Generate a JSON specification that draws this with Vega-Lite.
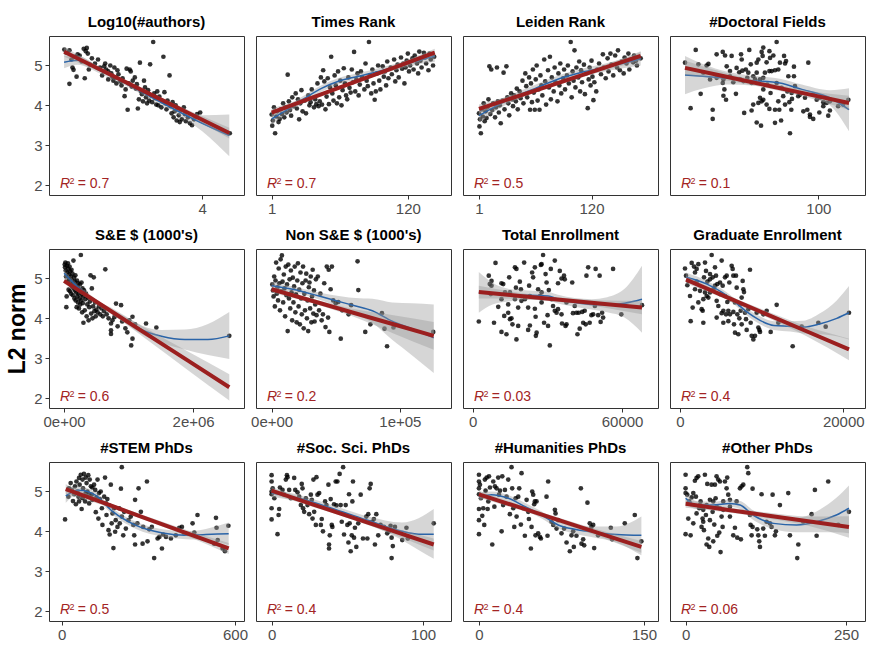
{
  "$schema": "https://vega.github.io/schema/vega-lite/v6.json",
  "padding": {"left": 6, "top": 14, "right": 0, "bottom": 0},
  "columns": 4,
  "spacing": {"row": 54, "column": 12},
  "bounds": "flush",
  "config": {
    "view": {"stroke": "#333333", "strokeWidth": 1},
    "axis": {"domain": false, "grid": false, "tickColor": "#333333", "tickSize": 4, "labelColor": "#4d4d4d", "labelFont": "Liberation Sans", "labelFontSize": 15, "labelPadding": 2, "titleFont": "Liberation Sans", "titleFontSize": 23, "titleFontWeight": "bold", "titleColor": "#000000", "titlePadding": 4},
    "axisX": {"labelFlush": false},
    "axisY": {"labelPadding": 3},
    "title": {"font": "Liberation Sans", "fontSize": 15, "fontWeight": "bold", "color": "#000000", "offset": 6, "anchor": "middle", "frame": "group"},
    "text": {"font": "Liberation Sans", "fontSize": 14, "color": "#a32424", "align": "left", "baseline": "alphabetic"},
    "circle": {"size": 22, "color": "#000000", "opacity": 0.8},
    "area": {"color": "#999999", "opacity": 0.4, "interpolate": "monotone"}
  },
  "datasets": {
    "p1": [{"x":2.65,"y":5.4},{"x":2.67,"y":5.32},{"x":2.7,"y":5.38},{"x":2.72,"y":5.15},{"x":2.73,"y":4.95},{"x":2.74,"y":4.89},{"x":2.75,"y":5.22},{"x":2.78,"y":5.28},{"x":2.8,"y":5.25},{"x":2.82,"y":5.1},{"x":2.84,"y":5.42},{"x":2.86,"y":5.36},{"x":2.87,"y":5.44},{"x":2.88,"y":5.3},{"x":2.9,"y":5.02},{"x":2.92,"y":5.18},{"x":2.7,"y":4.54},{"x":2.77,"y":4.72},{"x":2.85,"y":4.68},{"x":2.89,"y":4.9},{"x":2.95,"y":5.05},{"x":2.98,"y":5.15},{"x":3.0,"y":4.95},{"x":3.02,"y":4.75},{"x":3.04,"y":4.98},{"x":3.05,"y":5.05},{"x":3.06,"y":4.9},{"x":3.08,"y":4.85},{"x":3.08,"y":4.65},{"x":3.1,"y":5.0},{"x":3.11,"y":4.8},{"x":3.12,"y":4.72},{"x":3.13,"y":4.62},{"x":3.14,"y":4.95},{"x":3.15,"y":4.7},{"x":3.16,"y":4.55},{"x":3.17,"y":4.88},{"x":3.18,"y":4.78},{"x":3.2,"y":4.6},{"x":3.21,"y":4.5},{"x":3.22,"y":4.68},{"x":3.24,"y":4.23},{"x":3.25,"y":4.4},{"x":3.26,"y":4.92},{"x":3.27,"y":3.89},{"x":3.28,"y":4.55},{"x":3.29,"y":4.9},{"x":3.3,"y":4.85},{"x":3.31,"y":4.47},{"x":3.32,"y":4.62},{"x":3.34,"y":4.7},{"x":3.35,"y":4.42},{"x":3.36,"y":4.53},{"x":3.37,"y":3.92},{"x":3.38,"y":4.15},{"x":3.39,"y":5.07},{"x":3.4,"y":4.35},{"x":3.41,"y":4.28},{"x":3.42,"y":4.1},{"x":3.43,"y":4.62},{"x":3.44,"y":4.45},{"x":3.45,"y":4.2},{"x":3.46,"y":4.05},{"x":3.47,"y":4.38},{"x":3.48,"y":4.12},{"x":3.49,"y":5.03},{"x":3.5,"y":4.25},{"x":3.51,"y":4.08},{"x":3.52,"y":5.59},{"x":3.53,"y":4.3},{"x":3.54,"y":4.18},{"x":3.55,"y":4.02},{"x":3.56,"y":4.35},{"x":3.57,"y":4.0},{"x":3.58,"y":4.22},{"x":3.6,"y":3.95},{"x":3.61,"y":4.1},{"x":3.62,"y":5.22},{"x":3.63,"y":4.33},{"x":3.64,"y":4.05},{"x":3.65,"y":3.9},{"x":3.66,"y":4.12},{"x":3.68,"y":4.75},{"x":3.69,"y":3.98},{"x":3.7,"y":3.8},{"x":3.71,"y":4.08},{"x":3.72,"y":3.7},{"x":3.73,"y":3.85},{"x":3.74,"y":4.0},{"x":3.75,"y":3.62},{"x":3.76,"y":3.92},{"x":3.77,"y":3.75},{"x":3.78,"y":3.58},{"x":3.79,"y":3.88},{"x":3.8,"y":3.65},{"x":3.82,"y":3.95},{"x":3.83,"y":3.78},{"x":3.84,"y":3.6},{"x":3.86,"y":3.7},{"x":3.88,"y":3.55},{"x":3.9,"y":3.5},{"x":3.92,"y":3.65},{"x":3.95,"y":3.78},{"x":3.98,"y":3.82},{"x":4.27,"y":3.3}],
    "s1": [{"x":2.648,"y":5.08,"lo":4.93,"hi":5.23},{"x":2.78,"y":5.13,"lo":5.02,"hi":5.24},{"x":3.0,"y":4.87,"lo":4.8,"hi":4.94},{"x":3.25,"y":4.55,"lo":4.49,"hi":4.61},{"x":3.5,"y":4.21,"lo":4.15,"hi":4.27},{"x":3.75,"y":3.87,"lo":3.79,"hi":3.95},{"x":4.0,"y":3.55,"lo":3.35,"hi":3.75},{"x":4.265,"y":3.24,"lo":2.72,"hi":3.77}],
    "l1": [{"x":2.648,"y":5.344,"lo":5.22,"hi":5.47},{"x":3.0,"y":4.9,"lo":4.84,"hi":4.96},{"x":3.45,"y":4.332,"lo":4.29,"hi":4.37},{"x":3.9,"y":3.764,"lo":3.69,"hi":3.84},{"x":4.265,"y":3.304,"lo":3.17,"hi":3.44}],
    "p2": [{"x":1,"y":3.77},{"x":1.5,"y":3.49},{"x":2,"y":3.62},{"x":3,"y":3.95},{"x":4,"y":3.3},{"x":5,"y":3.72},{"x":6,"y":3.85},{"x":7,"y":3.58},{"x":8,"y":3.66},{"x":9,"y":3.9},{"x":10,"y":3.78},{"x":11,"y":4.05},{"x":12,"y":3.7},{"x":13,"y":3.95},{"x":14,"y":3.82},{"x":15,"y":4.77},{"x":16,"y":4.1},{"x":17,"y":3.88},{"x":18,"y":3.74},{"x":19,"y":4.2},{"x":20,"y":3.98},{"x":22,"y":4.3},{"x":23,"y":3.92},{"x":24,"y":4.15},{"x":25,"y":3.65},{"x":26,"y":4.05},{"x":27,"y":4.38},{"x":28,"y":3.85},{"x":30,"y":4.12},{"x":31,"y":3.8},{"x":33,"y":4.25},{"x":34,"y":4.0},{"x":35,"y":4.08},{"x":36,"y":4.4},{"x":38,"y":3.95},{"x":39,"y":4.15},{"x":40,"y":4.03},{"x":41,"y":4.55},{"x":42,"y":3.98},{"x":43,"y":4.1},{"x":44,"y":4.7},{"x":45,"y":4.02},{"x":46,"y":4.88},{"x":47,"y":4.6},{"x":48,"y":3.9},{"x":49,"y":4.22},{"x":50,"y":4.68},{"x":51,"y":4.03},{"x":52,"y":4.45},{"x":53,"y":5.22},{"x":54,"y":4.3},{"x":55,"y":4.12},{"x":56,"y":4.75},{"x":57,"y":4.5},{"x":58,"y":4.05},{"x":59,"y":4.85},{"x":60,"y":4.2},{"x":61,"y":4.62},{"x":62,"y":4.0},{"x":63,"y":4.38},{"x":64,"y":4.93},{"x":65,"y":4.55},{"x":66,"y":4.25},{"x":67,"y":4.15},{"x":68,"y":4.7},{"x":69,"y":4.44},{"x":70,"y":4.32},{"x":71,"y":4.9},{"x":72,"y":4.58},{"x":73,"y":5.34},{"x":74,"y":4.35},{"x":75,"y":4.65},{"x":76,"y":4.8},{"x":77,"y":4.25},{"x":78,"y":4.52},{"x":79,"y":4.85},{"x":80,"y":4.7},{"x":82,"y":4.4},{"x":83,"y":5.05},{"x":84,"y":4.62},{"x":85,"y":4.48},{"x":86,"y":5.59},{"x":87,"y":4.75},{"x":88,"y":4.3},{"x":89,"y":4.9},{"x":90,"y":4.55},{"x":91,"y":4.14},{"x":92,"y":4.35},{"x":93,"y":4.8},{"x":94,"y":5.0},{"x":95,"y":4.62},{"x":96,"y":4.4},{"x":98,"y":4.98},{"x":99,"y":4.72},{"x":100,"y":4.85},{"x":101,"y":4.5},{"x":102,"y":5.1},{"x":103,"y":4.68},{"x":105,"y":4.95},{"x":106,"y":4.78},{"x":108,"y":5.15},{"x":109,"y":4.6},{"x":110,"y":4.88},{"x":111,"y":5.02},{"x":112,"y":4.7},{"x":114,"y":5.2},{"x":115,"y":4.92},{"x":116,"y":5.05},{"x":117,"y":4.55},{"x":118,"y":4.95},{"x":119,"y":5.12},{"x":120,"y":5.3},{"x":121,"y":4.85},{"x":122,"y":5.0},{"x":124,"y":5.18},{"x":125,"y":4.9},{"x":126,"y":5.25},{"x":128,"y":5.05},{"x":129,"y":4.8},{"x":130,"y":5.35},{"x":131,"y":5.12},{"x":132,"y":4.95},{"x":134,"y":5.32},{"x":135,"y":5.2},{"x":136,"y":5.05},{"x":138,"y":4.88},{"x":139,"y":5.3},{"x":140,"y":5.15},{"x":142,"y":5.0},{"x":143,"y":5.22}],
    "s2": [{"x":1,"y":3.66,"lo":3.52,"hi":3.8},{"x":15,"y":3.9,"lo":3.8,"hi":4.0},{"x":30,"y":4.18,"lo":4.1,"hi":4.26},{"x":45,"y":4.43,"lo":4.35,"hi":4.51},{"x":60,"y":4.61,"lo":4.53,"hi":4.69},{"x":75,"y":4.72,"lo":4.64,"hi":4.8},{"x":90,"y":4.82,"lo":4.74,"hi":4.9},{"x":105,"y":4.93,"lo":4.85,"hi":5.01},{"x":120,"y":5.05,"lo":4.96,"hi":5.14},{"x":135,"y":5.17,"lo":5.06,"hi":5.28},{"x":143.5,"y":5.23,"lo":5.09,"hi":5.37}],
    "l2": [{"x":1,"y":3.82,"lo":3.72,"hi":3.92},{"x":40,"y":4.231,"lo":4.18,"hi":4.28},{"x":72,"y":4.567,"lo":4.53,"hi":4.61},{"x":105,"y":4.915,"lo":4.86,"hi":4.97},{"x":143.5,"y":5.32,"lo":5.22,"hi":5.42}],
    "p3": [{"x":1,"y":3.8},{"x":1.5,"y":3.47},{"x":2,"y":3.65},{"x":3,"y":3.3},{"x":4,"y":3.9},{"x":5,"y":3.72},{"x":6,"y":4.05},{"x":7,"y":3.6},{"x":8,"y":3.85},{"x":9,"y":3.68},{"x":10,"y":3.95},{"x":11,"y":4.15},{"x":12,"y":4.98},{"x":13,"y":3.78},{"x":14,"y":4.9},{"x":15,"y":3.88},{"x":16,"y":4.05},{"x":18,"y":3.7},{"x":19,"y":3.95},{"x":20,"y":4.95},{"x":21,"y":4.1},{"x":22,"y":3.82},{"x":23,"y":4.0},{"x":24,"y":3.55},{"x":26,"y":4.12},{"x":27,"y":4.82},{"x":28,"y":3.9},{"x":30,"y":4.98},{"x":31,"y":4.2},{"x":32,"y":4.05},{"x":33,"y":3.75},{"x":35,"y":4.3},{"x":36,"y":4.15},{"x":37,"y":3.98},{"x":38,"y":4.25},{"x":40,"y":4.1},{"x":41,"y":4.42},{"x":42,"y":3.9},{"x":44,"y":4.35},{"x":45,"y":4.18},{"x":47,"y":4.62},{"x":48,"y":4.05},{"x":50,"y":4.8},{"x":51,"y":4.48},{"x":52,"y":4.2},{"x":54,"y":4.7},{"x":55,"y":3.89},{"x":56,"y":4.55},{"x":57,"y":4.08},{"x":58,"y":4.9},{"x":59,"y":4.32},{"x":60,"y":3.89},{"x":61,"y":4.65},{"x":62,"y":5.0},{"x":63,"y":4.12},{"x":64,"y":4.4},{"x":65,"y":3.89},{"x":66,"y":4.75},{"x":67,"y":4.5},{"x":68,"y":4.25},{"x":70,"y":5.15},{"x":71,"y":4.6},{"x":72,"y":4.02},{"x":74,"y":4.88},{"x":75,"y":4.45},{"x":76,"y":5.22},{"x":77,"y":4.15},{"x":78,"y":4.7},{"x":80,"y":4.35},{"x":81,"y":4.95},{"x":82,"y":4.58},{"x":84,"y":4.1},{"x":85,"y":4.8},{"x":86,"y":4.5},{"x":87,"y":5.05},{"x":88,"y":4.3},{"x":90,"y":4.68},{"x":91,"y":4.9},{"x":92,"y":4.4},{"x":94,"y":4.75},{"x":95,"y":5.0},{"x":96,"y":4.55},{"x":98,"y":5.59},{"x":99,"y":4.2},{"x":100,"y":4.85},{"x":101,"y":4.62},{"x":102,"y":5.38},{"x":103,"y":4.45},{"x":104,"y":4.95},{"x":106,"y":4.7},{"x":107,"y":5.1},{"x":108,"y":4.35},{"x":109,"y":4.88},{"x":110,"y":4.58},{"x":112,"y":5.02},{"x":113,"y":4.28},{"x":114,"y":4.8},{"x":116,"y":3.93},{"x":117,"y":4.65},{"x":118,"y":4.95},{"x":119,"y":4.5},{"x":120,"y":5.12},{"x":121,"y":4.72},{"x":122,"y":4.13},{"x":123,"y":4.58},{"x":125,"y":4.35},{"x":126,"y":4.9},{"x":128,"y":5.05},{"x":130,"y":4.78},{"x":132,"y":5.28},{"x":133,"y":4.95},{"x":135,"y":4.68},{"x":137,"y":5.18},{"x":138,"y":4.85},{"x":140,"y":5.3},{"x":141,"y":5.02},{"x":143,"y":4.75},{"x":145,"y":5.25},{"x":147,"y":4.95},{"x":148,"y":5.38},{"x":150,"y":4.88},{"x":152,"y":5.1},{"x":154,"y":4.8},{"x":155,"y":5.2},{"x":157,"y":5.05},{"x":159,"y":5.3},{"x":160,"y":4.9},{"x":162,"y":5.15},{"x":164,"y":5.08},{"x":165,"y":5.25},{"x":167,"y":5.12},{"x":168,"y":5.0},{"x":170,"y":5.2},{"x":172,"y":5.18}],
    "s3": [{"x":1,"y":3.74,"lo":3.58,"hi":3.9},{"x":30,"y":4.12,"lo":4.02,"hi":4.22},{"x":60,"y":4.42,"lo":4.33,"hi":4.51},{"x":85,"y":4.66,"lo":4.57,"hi":4.75},{"x":110,"y":4.83,"lo":4.74,"hi":4.92},{"x":137,"y":4.96,"lo":4.86,"hi":5.06},{"x":155,"y":5.06,"lo":4.94,"hi":5.18},{"x":172,"y":5.17,"lo":5.0,"hi":5.34}],
    "l3": [{"x":1,"y":3.91,"lo":3.8,"hi":4.02},{"x":45,"y":4.252,"lo":4.19,"hi":4.31},{"x":86,"y":4.571,"lo":4.52,"hi":4.62},{"x":130,"y":4.913,"lo":4.85,"hi":4.98},{"x":172,"y":5.24,"lo":5.12,"hi":5.36}],
    "p4": [{"x":19.1,"y":5.07},{"x":25.6,"y":5.39},{"x":22.5,"y":3.93},{"x":28.6,"y":4.29},{"x":32.2,"y":5.0},{"x":35.9,"y":3.89},{"x":35.9,"y":3.66},{"x":38.3,"y":5.28},{"x":42,"y":5.34},{"x":43.4,"y":5.25},{"x":47.4,"y":5.24},{"x":43,"y":4.4},{"x":42.4,"y":4.24},{"x":44,"y":4.14},{"x":50,"y":4.29},{"x":53.1,"y":5.28},{"x":53.5,"y":5.15},{"x":58.1,"y":5.39},{"x":59,"y":5.03},{"x":52,"y":4.83},{"x":56,"y":4.9},{"x":55,"y":3.81},{"x":59.5,"y":3.87},{"x":60.5,"y":4.02},{"x":62.6,"y":3.57},{"x":65.2,"y":3.49},{"x":63.6,"y":5.15},{"x":65.6,"y":5.34},{"x":66.6,"y":5.45},{"x":66.2,"y":5.24},{"x":68.6,"y":5.08},{"x":70.3,"y":5.36},{"x":74.7,"y":5.59},{"x":72.7,"y":5.25},{"x":70.3,"y":4.86},{"x":71.7,"y":4.86},{"x":73.7,"y":4.88},{"x":75.7,"y":4.9},{"x":64.6,"y":4.19},{"x":65.6,"y":4.1},{"x":66.6,"y":4.14},{"x":63.6,"y":4.06},{"x":68.6,"y":4.02},{"x":70.3,"y":3.91},{"x":73.7,"y":3.89},{"x":76.3,"y":3.89},{"x":73.7,"y":3.56},{"x":77.4,"y":3.62},{"x":79.2,"y":5.24},{"x":79.8,"y":5.05},{"x":80.4,"y":5.11},{"x":82.8,"y":3.3},{"x":84,"y":4.16},{"x":83.6,"y":3.89},{"x":85.2,"y":4.97},{"x":85.2,"y":4.73},{"x":81.8,"y":4.73},{"x":82.4,"y":4.08},{"x":87.8,"y":4.23},{"x":93.9,"y":5.07},{"x":93.3,"y":3.89},{"x":94.9,"y":3.77},{"x":94.9,"y":3.71},{"x":96.9,"y":3.66},{"x":100.6,"y":3.82},{"x":106,"y":3.74},{"x":107,"y":3.87},{"x":103,"y":4.08},{"x":118.2,"y":4.14},{"x":53.9,"y":4.87},{"x":42.4,"y":4.65},{"x":46.4,"y":4.73},{"x":48.4,"y":4.58},{"x":52.5,"y":4.65},{"x":54.5,"y":4.61},{"x":56.9,"y":4.69},{"x":59.5,"y":4.56},{"x":62.6,"y":4.82},{"x":64.6,"y":4.65},{"x":67.6,"y":4.82},{"x":69,"y":4.52},{"x":74.7,"y":4.56},{"x":77.7,"y":4.44},{"x":81.2,"y":4.35},{"x":83.8,"y":4.31},{"x":85.8,"y":4.48},{"x":88.9,"y":4.27},{"x":91.9,"y":4.19},{"x":97,"y":4.27},{"x":101,"y":4.19},{"x":105,"y":4.06},{"x":107,"y":4.1},{"x":112,"y":3.98},{"x":115,"y":4.02},{"x":30.2,"y":4.82},{"x":34.3,"y":4.65},{"x":38.3,"y":4.69},{"x":27.2,"y":5.03},{"x":33.3,"y":5.04},{"x":42,"y":4.56},{"x":46.4,"y":4.86},{"x":57.5,"y":4.82},{"x":60.5,"y":4.73},{"x":61.6,"y":4.65},{"x":66.6,"y":4.4},{"x":71,"y":4.31},{"x":75.7,"y":4.1},{"x":79.8,"y":4.02},{"x":78.7,"y":4.23},{"x":90.9,"y":3.85},{"x":99,"y":4.14},{"x":103,"y":3.98},{"x":66.6,"y":4.69},{"x":62.6,"y":5.07},{"x":76.7,"y":5.07},{"x":50.4,"y":4.94},{"x":44.4,"y":4.98},{"x":70.7,"y":5.19}],
    "s4": [{"x":19.1,"y":4.76,"lo":4.28,"hi":5.24},{"x":30,"y":4.73,"lo":4.42,"hi":5.04},{"x":45,"y":4.68,"lo":4.52,"hi":4.84},{"x":60,"y":4.62,"lo":4.5,"hi":4.74},{"x":76.6,"y":4.56,"lo":4.45,"hi":4.67},{"x":90,"y":4.4,"lo":4.28,"hi":4.52},{"x":107,"y":4.19,"lo":4.0,"hi":4.38},{"x":118.6,"y":3.89,"lo":3.35,"hi":4.43}],
    "l4": [{"x":19.1,"y":4.94,"lo":4.76,"hi":5.12},{"x":45,"y":4.711,"lo":4.62,"hi":4.8},{"x":69,"y":4.499,"lo":4.43,"hi":4.57},{"x":95,"y":4.269,"lo":4.18,"hi":4.36},{"x":118.6,"y":4.06,"lo":3.88,"hi":4.24}],
    "p5": [{"x":10000,"y":5.35},{"x":15000,"y":5.28},{"x":20000,"y":5.4},{"x":25000,"y":5.2},{"x":30000,"y":5.05},{"x":35000,"y":4.28},{"x":40000,"y":4.55},{"x":45000,"y":5.32},{"x":50000,"y":5.15},{"x":55000,"y":4.92},{"x":60000,"y":5.38},{"x":65000,"y":5.25},{"x":70000,"y":4.72},{"x":75000,"y":5.1},{"x":80000,"y":4.98},{"x":85000,"y":5.3},{"x":90000,"y":4.68},{"x":95000,"y":5.18},{"x":100000,"y":4.85},{"x":105000,"y":5.05},{"x":110000,"y":4.62},{"x":115000,"y":5.22},{"x":120000,"y":4.95},{"x":125000,"y":4.8},{"x":130000,"y":5.12},{"x":135000,"y":4.58},{"x":140000,"y":4.88},{"x":145000,"y":5.45},{"x":150000,"y":4.75},{"x":155000,"y":5.02},{"x":160000,"y":4.5},{"x":165000,"y":4.92},{"x":170000,"y":4.7},{"x":175000,"y":5.08},{"x":180000,"y":4.45},{"x":185000,"y":4.82},{"x":190000,"y":4.65},{"x":195000,"y":4.28},{"x":200000,"y":4.95},{"x":205000,"y":4.55},{"x":210000,"y":4.78},{"x":215000,"y":4.4},{"x":220000,"y":4.88},{"x":225000,"y":4.62},{"x":230000,"y":4.25},{"x":235000,"y":4.72},{"x":240000,"y":4.5},{"x":245000,"y":4.85},{"x":250000,"y":4.35},{"x":255000,"y":4.68},{"x":260000,"y":5.59},{"x":265000,"y":4.45},{"x":270000,"y":4.9},{"x":275000,"y":4.6},{"x":280000,"y":4.15},{"x":285000,"y":4.75},{"x":290000,"y":4.38},{"x":295000,"y":4.55},{"x":300000,"y":3.89},{"x":310000,"y":4.7},{"x":320000,"y":4.2},{"x":330000,"y":4.48},{"x":340000,"y":4.62},{"x":350000,"y":4.05},{"x":360000,"y":4.35},{"x":370000,"y":4.52},{"x":380000,"y":3.95},{"x":390000,"y":4.28},{"x":400000,"y":4.42},{"x":410000,"y":5.08},{"x":420000,"y":4.12},{"x":430000,"y":4.75},{"x":440000,"y":4.0},{"x":450000,"y":4.3},{"x":460000,"y":5.03},{"x":470000,"y":4.18},{"x":480000,"y":4.4},{"x":490000,"y":4.05},{"x":500000,"y":4.22},{"x":520000,"y":4.15},{"x":540000,"y":4.3},{"x":560000,"y":4.1},{"x":580000,"y":4.25},{"x":600000,"y":4.05},{"x":620000,"y":4.18},{"x":639000,"y":5.23},{"x":660000,"y":4.1},{"x":690000,"y":4.0},{"x":727000,"y":3.87},{"x":727000,"y":3.7},{"x":727000,"y":3.61},{"x":750000,"y":3.95},{"x":779000,"y":4.03},{"x":805000,"y":4.37},{"x":830000,"y":3.8},{"x":883000,"y":4.33},{"x":900000,"y":3.92},{"x":950000,"y":3.75},{"x":980000,"y":3.65},{"x":1010000,"y":3.95},{"x":1040000,"y":3.32},{"x":1060000,"y":3.49},{"x":1060000,"y":4.04},{"x":1100000,"y":3.85},{"x":1270000,"y":3.87},{"x":1430000,"y":3.77},{"x":2560000,"y":3.56}],
    "s5": [{"x":0,"y":5.13,"lo":5.05,"hi":5.21},{"x":208000,"y":4.79,"lo":4.73,"hi":4.85},{"x":363000,"y":4.58,"lo":4.52,"hi":4.64},{"x":571000,"y":4.33,"lo":4.26,"hi":4.4},{"x":727000,"y":4.19,"lo":4.11,"hi":4.27},{"x":986000,"y":3.93,"lo":3.84,"hi":4.02},{"x":1220000,"y":3.7,"lo":3.59,"hi":3.81},{"x":1510000,"y":3.55,"lo":3.39,"hi":3.71},{"x":1870000,"y":3.47,"lo":3.22,"hi":3.72},{"x":2230000,"y":3.47,"lo":3.08,"hi":3.86},{"x":2560000,"y":3.56,"lo":2.98,"hi":4.16}],
    "l5": [{"x":0,"y":4.94,"lo":4.87,"hi":5.01},{"x":640000,"y":4.272,"lo":4.22,"hi":4.32},{"x":1280000,"y":3.605,"lo":3.47,"hi":3.74},{"x":1920000,"y":2.938,"lo":2.7,"hi":3.17},{"x":2560000,"y":2.27,"lo":1.94,"hi":2.6}],
    "p6": [{"x":500,"y":4.85},{"x":1000,"y":4.7},{"x":1500,"y":4.55},{"x":2000,"y":5.05},{"x":2500,"y":4.3},{"x":3000,"y":4.95},{"x":3500,"y":5.4},{"x":4000,"y":4.62},{"x":4500,"y":4.78},{"x":5000,"y":4.45},{"x":5500,"y":5.25},{"x":6000,"y":4.88},{"x":6500,"y":4.2},{"x":7000,"y":5.48},{"x":7500,"y":4.68},{"x":8000,"y":5.58},{"x":8500,"y":4.92},{"x":9000,"y":4.4},{"x":9500,"y":5.1},{"x":10000,"y":4.75},{"x":10500,"y":4.05},{"x":11000,"y":5.3},{"x":11500,"y":4.58},{"x":12000,"y":4.85},{"x":12500,"y":3.68},{"x":13000,"y":5.35},{"x":13500,"y":4.5},{"x":14000,"y":4.98},{"x":14500,"y":4.25},{"x":15000,"y":5.2},{"x":15500,"y":4.65},{"x":16000,"y":3.95},{"x":16500,"y":5.02},{"x":17000,"y":4.4},{"x":17500,"y":4.8},{"x":18000,"y":5.3},{"x":18500,"y":4.15},{"x":19000,"y":4.6},{"x":19500,"y":3.9},{"x":20000,"y":4.95},{"x":20500,"y":5.38},{"x":21000,"y":4.3},{"x":21500,"y":4.72},{"x":22000,"y":3.85},{"x":22500,"y":5.15},{"x":23000,"y":4.5},{"x":23500,"y":4.1},{"x":24000,"y":4.88},{"x":24500,"y":5.3},{"x":25000,"y":3.75},{"x":25500,"y":4.62},{"x":26000,"y":4.2},{"x":26500,"y":4.95},{"x":27000,"y":5.12},{"x":27500,"y":4.0},{"x":28000,"y":4.45},{"x":28500,"y":3.68},{"x":29000,"y":4.78},{"x":29500,"y":4.9},{"x":30000,"y":4.25},{"x":30500,"y":5.05},{"x":31000,"y":3.9},{"x":31500,"y":4.55},{"x":32000,"y":5.22},{"x":32500,"y":4.12},{"x":33000,"y":4.7},{"x":33500,"y":3.92},{"x":34000,"y":4.35},{"x":34500,"y":4.98},{"x":35000,"y":4.08},{"x":36000,"y":5.05},{"x":37000,"y":4.2},{"x":38000,"y":4.62},{"x":39000,"y":3.95},{"x":40000,"y":4.1},{"x":41000,"y":4.88},{"x":42000,"y":3.78},{"x":43000,"y":5.3},{"x":44000,"y":4.02},{"x":44500,"y":5.22},{"x":45000,"y":3.66},{"x":46000,"y":4.73},{"x":47000,"y":5.3},{"x":48000,"y":4.45},{"x":50000,"y":4.38},{"x":52000,"y":4.41},{"x":53900,"y":3.49},{"x":55000,"y":4.2},{"x":60000,"y":4.1},{"x":62000,"y":4.33},{"x":67000,"y":5.43},{"x":67600,"y":4.71},{"x":73000,"y":3.66},{"x":77000,"y":3.85},{"x":86000,"y":4.13},{"x":88000,"y":3.74},{"x":95000,"y":3.77},{"x":90000,"y":3.3},{"x":126000,"y":3.66}],
    "s6": [{"x":0,"y":4.82,"lo":4.72,"hi":4.92},{"x":16300,"y":4.73,"lo":4.66,"hi":4.8},{"x":37000,"y":4.56,"lo":4.47,"hi":4.65},{"x":55000,"y":4.4,"lo":4.25,"hi":4.55},{"x":65500,"y":4.31,"lo":4.11,"hi":4.51},{"x":78500,"y":4.19,"lo":3.89,"hi":4.49},{"x":94000,"y":3.93,"lo":3.46,"hi":4.4},{"x":109600,"y":3.74,"lo":3.07,"hi":4.38},{"x":126400,"y":3.51,"lo":2.63,"hi":4.35}],
    "l6": [{"x":0,"y":4.73,"lo":4.64,"hi":4.82},{"x":32000,"y":4.434,"lo":4.38,"hi":4.49},{"x":63000,"y":4.147,"lo":4.05,"hi":4.24},{"x":95000,"y":3.851,"lo":3.62,"hi":4.08},{"x":126400,"y":3.56,"lo":3.21,"hi":3.91}],
    "p7": [{"x":2500,"y":3.92},{"x":6500,"y":5.07},{"x":7600,"y":4.94},{"x":6900,"y":4.86},{"x":8600,"y":3.89},{"x":9200,"y":5.39},{"x":10300,"y":4.29},{"x":11600,"y":4.88},{"x":11600,"y":3.66},{"x":12300,"y":4.86},{"x":12700,"y":4.06},{"x":13600,"y":3.6},{"x":14300,"y":4.14},{"x":14700,"y":5.03},{"x":15000,"y":3.98},{"x":15600,"y":4.0},{"x":16000,"y":3.85},{"x":17000,"y":5.28},{"x":17600,"y":5.24},{"x":17400,"y":4.77},{"x":17600,"y":3.47},{"x":18300,"y":4.27},{"x":18970,"y":4.92},{"x":19400,"y":4.73},{"x":20700,"y":5.4},{"x":22300,"y":3.71},{"x":22700,"y":4.82},{"x":23000,"y":3.82},{"x":23900,"y":5.15},{"x":24300,"y":5.03},{"x":25000,"y":5.28},{"x":25000,"y":4.24},{"x":25300,"y":4.04},{"x":25700,"y":3.64},{"x":25400,"y":3.56},{"x":26300,"y":4.73},{"x":27000,"y":4.55},{"x":27400,"y":5.34},{"x":27700,"y":5.36},{"x":28300,"y":5.59},{"x":28700,"y":3.89},{"x":29300,"y":5.11},{"x":29700,"y":4.9},{"x":30100,"y":4.08},{"x":30300,"y":3.81},{"x":30600,"y":4.71},{"x":31000,"y":3.32},{"x":31400,"y":5.24},{"x":31700,"y":4.48},{"x":32300,"y":4.31},{"x":33000,"y":5.45},{"x":33000,"y":4.19},{"x":33700,"y":4.14},{"x":34300,"y":4.23},{"x":34300,"y":4.88},{"x":35000,"y":5.19},{"x":35700,"y":5.0},{"x":35700,"y":4.1},{"x":35900,"y":3.87},{"x":36700,"y":5.07},{"x":37300,"y":3.81},{"x":37700,"y":3.85},{"x":37000,"y":4.98},{"x":40000,"y":4.9},{"x":40300,"y":4.13},{"x":41700,"y":4.14},{"x":42100,"y":3.6},{"x":42600,"y":4.14},{"x":43000,"y":3.74},{"x":44400,"y":3.89},{"x":44000,"y":4.16},{"x":45700,"y":5.07},{"x":45400,"y":3.85},{"x":46400,"y":5.28},{"x":47000,"y":3.89},{"x":47700,"y":4.08},{"x":48400,"y":4.1},{"x":49400,"y":5.24},{"x":50400,"y":4.08},{"x":51000,"y":5.07},{"x":51400,"y":3.91},{"x":52000,"y":4.14},{"x":52400,"y":4.02},{"x":56400,"y":5.24},{"x":59700,"y":4.1},{"x":68000,"y":4.33},{"x":7600,"y":4.82},{"x":7300,"y":4.61},{"x":13000,"y":4.65},{"x":17000,"y":4.48},{"x":19600,"y":4.44},{"x":23000,"y":4.56},{"x":27700,"y":4.65},{"x":37700,"y":4.4},{"x":41000,"y":4.31},{"x":45000,"y":4.19},{"x":49100,"y":4.31},{"x":27700,"y":4.4},{"x":22300,"y":4.27},{"x":11600,"y":4.48},{"x":14300,"y":4.35},{"x":18300,"y":3.81},{"x":21000,"y":4.48},{"x":15000,"y":4.65}],
    "s7": [{"x":2500,"y":4.65,"lo":4.14,"hi":5.16},{"x":8000,"y":4.62,"lo":4.35,"hi":4.89},{"x":14300,"y":4.58,"lo":4.42,"hi":4.74},{"x":22000,"y":4.58,"lo":4.46,"hi":4.7},{"x":30300,"y":4.56,"lo":4.45,"hi":4.67},{"x":34300,"y":4.48,"lo":4.37,"hi":4.59},{"x":41000,"y":4.4,"lo":4.29,"hi":4.51},{"x":47700,"y":4.35,"lo":4.22,"hi":4.48},{"x":54000,"y":4.34,"lo":4.15,"hi":4.53},{"x":61000,"y":4.38,"lo":4.02,"hi":4.74},{"x":68000,"y":4.48,"lo":3.64,"hi":5.32}],
    "l7": [{"x":2500,"y":4.66,"lo":4.5,"hi":4.82},{"x":18000,"y":4.568,"lo":4.49,"hi":4.65},{"x":35000,"y":4.467,"lo":4.41,"hi":4.52},{"x":52000,"y":4.365,"lo":4.28,"hi":4.45},{"x":68000,"y":4.27,"lo":4.1,"hi":4.44}],
    "p8": [{"x":612,"y":5.25},{"x":735,"y":5.07},{"x":898,"y":4.83},{"x":1225,"y":4.56},{"x":1307,"y":3.93},{"x":1430,"y":5.39},{"x":1551,"y":4.27},{"x":1715,"y":5.3},{"x":1837,"y":5.15},{"x":2041,"y":5.24},{"x":2041,"y":4.92},{"x":2246,"y":5.36},{"x":2450,"y":4.69},{"x":2654,"y":4.23},{"x":2776,"y":4.19},{"x":2858,"y":3.89},{"x":2940,"y":5.03},{"x":3062,"y":5.4},{"x":3062,"y":4.65},{"x":3185,"y":5.19},{"x":3266,"y":4.56},{"x":3348,"y":4.92},{"x":3470,"y":4.52},{"x":3675,"y":5.11},{"x":3879,"y":5.59},{"x":4001,"y":5.03},{"x":4083,"y":4.73},{"x":4287,"y":5.28},{"x":4410,"y":5.07},{"x":4491,"y":4.44},{"x":4573,"y":4.86},{"x":4695,"y":4.31},{"x":4900,"y":4.61},{"x":5104,"y":5.45},{"x":5104,"y":4.13},{"x":5226,"y":4.82},{"x":5308,"y":3.89},{"x":5512,"y":5.03},{"x":5634,"y":4.1},{"x":5716,"y":5.07},{"x":5798,"y":4.41},{"x":5920,"y":4.19},{"x":6043,"y":4.9},{"x":6124,"y":4.1},{"x":6328,"y":5.32},{"x":6451,"y":5.24},{"x":6533,"y":5.07},{"x":6533,"y":4.16},{"x":6614,"y":3.85},{"x":6737,"y":3.64},{"x":6737,"y":4.4},{"x":6859,"y":5.07},{"x":6941,"y":4.77},{"x":7022,"y":4.1},{"x":7145,"y":3.6},{"x":7268,"y":4.0},{"x":7431,"y":4.19},{"x":7554,"y":3.85},{"x":7676,"y":4.94},{"x":7758,"y":4.73},{"x":7839,"y":4.66},{"x":7962,"y":4.14},{"x":8084,"y":3.98},{"x":8166,"y":3.71},{"x":8574,"y":5.22},{"x":8656,"y":3.89},{"x":8778,"y":3.56},{"x":8983,"y":3.47},{"x":9187,"y":3.56},{"x":9596,"y":3.77},{"x":9718,"y":3.71},{"x":9800,"y":3.66},{"x":10207,"y":4.1},{"x":11106,"y":3.66},{"x":11841,"y":4.34},{"x":12045,"y":3.89},{"x":13801,"y":3.3},{"x":14903,"y":3.79},{"x":16944,"y":3.89},{"x":17843,"y":3.79},{"x":20700,"y":4.14},{"x":3675,"y":4.65},{"x":4287,"y":4.82},{"x":4900,"y":4.9},{"x":5512,"y":4.56},{"x":6124,"y":4.48},{"x":7349,"y":4.35},{"x":8370,"y":4.23},{"x":2858,"y":4.48},{"x":2246,"y":4.4},{"x":1837,"y":4.73},{"x":1020,"y":4.94},{"x":3675,"y":4.98},{"x":9391,"y":4.14},{"x":10616,"y":4.19},{"x":5308,"y":4.19},{"x":4491,"y":4.02},{"x":5920,"y":3.93},{"x":7554,"y":4.52}],
    "s8": [{"x":735,"y":5.03,"lo":4.91,"hi":5.15},{"x":3300,"y":4.86,"lo":4.78,"hi":4.94},{"x":5100,"y":4.66,"lo":4.58,"hi":4.74},{"x":6500,"y":4.45,"lo":4.37,"hi":4.53},{"x":8200,"y":4.16,"lo":4.07,"hi":4.25},{"x":9800,"y":3.95,"lo":3.85,"hi":4.05},{"x":11500,"y":3.82,"lo":3.71,"hi":3.93},{"x":13500,"y":3.8,"lo":3.67,"hi":3.93},{"x":15100,"y":3.78,"lo":3.62,"hi":3.94},{"x":17100,"y":3.86,"lo":3.6,"hi":4.12},{"x":19200,"y":4.0,"lo":3.55,"hi":4.45},{"x":20700,"y":4.14,"lo":3.47,"hi":4.81}],
    "l8": [{"x":735,"y":4.97,"lo":4.88,"hi":5.06},{"x":5500,"y":4.552,"lo":4.49,"hi":4.61},{"x":10500,"y":4.114,"lo":4.04,"hi":4.19},{"x":15500,"y":3.676,"lo":3.55,"hi":3.8},{"x":20700,"y":3.22,"lo":2.95,"hi":3.49}],
    "p9": [{"x":11.6,"y":4.3},{"x":31,"y":5.21},{"x":35,"y":5.04},{"x":39,"y":4.76},{"x":46,"y":5.13},{"x":51,"y":5.25},{"x":54,"y":5.0},{"x":58,"y":4.87},{"x":60,"y":5.34},{"x":62,"y":5.17},{"x":66,"y":5.42},{"x":69,"y":4.56},{"x":72,"y":5.3},{"x":74,"y":5.08},{"x":77,"y":5.44},{"x":81,"y":4.75},{"x":83,"y":5.35},{"x":86,"y":5.21},{"x":89,"y":5.0},{"x":92,"y":5.41},{"x":95,"y":4.7},{"x":97,"y":5.3},{"x":101,"y":5.13},{"x":104,"y":4.92},{"x":106,"y":4.79},{"x":112,"y":5.17},{"x":116,"y":5.04},{"x":118,"y":4.48},{"x":124,"y":5.3},{"x":127,"y":4.32},{"x":129,"y":4.96},{"x":132,"y":4.81},{"x":135,"y":5.0},{"x":139,"y":4.58},{"x":141,"y":4.16},{"x":147,"y":4.87},{"x":150,"y":5.35},{"x":153,"y":4.7},{"x":155,"y":4.41},{"x":158,"y":4.81},{"x":162,"y":4.03},{"x":164,"y":4.65},{"x":166,"y":3.92},{"x":170,"y":5.17},{"x":173,"y":4.2},{"x":176,"y":4.45},{"x":179,"y":3.58},{"x":181,"y":4.58},{"x":185,"y":3.99},{"x":187,"y":4.28},{"x":193,"y":4.11},{"x":199,"y":4.58},{"x":201,"y":4.2},{"x":205,"y":5.07},{"x":208,"y":5.61},{"x":208,"y":4.37},{"x":213,"y":3.9},{"x":216,"y":4.49},{"x":222,"y":4.07},{"x":231,"y":4.28},{"x":239,"y":4.37},{"x":248,"y":4.16},{"x":251,"y":3.9},{"x":254,"y":4.79},{"x":254,"y":3.67},{"x":262,"y":4.2},{"x":266,"y":5.08},{"x":274,"y":4.49},{"x":280,"y":3.69},{"x":282,"y":4.11},{"x":295,"y":5.25},{"x":297,"y":3.75},{"x":303,"y":4.05},{"x":312,"y":4.11},{"x":320,"y":3.33},{"x":332,"y":3.82},{"x":338,"y":3.86},{"x":347,"y":3.57},{"x":351,"y":3.92},{"x":361,"y":3.86},{"x":378,"y":3.82},{"x":395,"y":3.9},{"x":407,"y":4.09},{"x":416,"y":4.11},{"x":424,"y":3.95},{"x":453,"y":4.2},{"x":459,"y":3.97},{"x":470,"y":4.41},{"x":528,"y":3.69},{"x":534,"y":4.34},{"x":536,"y":4.09},{"x":540,"y":3.78},{"x":557,"y":3.57},{"x":565,"y":3.5},{"x":577,"y":4.14},{"x":23,"y":4.87},{"x":43,"y":4.93},{"x":25,"y":5.08},{"x":106,"y":5.1},{"x":83,"y":4.96},{"x":120,"y":4.85},{"x":72,"y":4.83},{"x":95,"y":4.92},{"x":60,"y":4.75},{"x":49,"y":4.68}],
    "s9": [{"x":13.9,"y":4.89,"lo":4.72,"hi":5.06},{"x":60,"y":5.03,"lo":4.94,"hi":5.12},{"x":118,"y":4.9,"lo":4.82,"hi":4.98},{"x":176,"y":4.5,"lo":4.42,"hi":4.58},{"x":257,"y":4.15,"lo":4.06,"hi":4.24},{"x":349,"y":3.96,"lo":3.87,"hi":4.05},{"x":430,"y":3.9,"lo":3.8,"hi":4.0},{"x":499,"y":3.92,"lo":3.78,"hi":4.06},{"x":578,"y":3.94,"lo":3.66,"hi":4.22}],
    "l9": [{"x":13.9,"y":5.06,"lo":4.94,"hi":5.18},{"x":155,"y":4.687,"lo":4.63,"hi":4.74},{"x":296,"y":4.315,"lo":4.26,"hi":4.37},{"x":437,"y":3.942,"lo":3.87,"hi":4.02},{"x":578,"y":3.57,"lo":3.43,"hi":3.71}],
    "p10": [{"x":0,"y":5.41},{"x":0,"y":5.25},{"x":0,"y":5.0},{"x":0,"y":4.93},{"x":0,"y":4.58},{"x":0,"y":4.3},{"x":0.7,"y":5.08},{"x":1.8,"y":4.83},{"x":3.9,"y":3.93},{"x":4.6,"y":4.41},{"x":5,"y":4.56},{"x":5.5,"y":5.1},{"x":7.2,"y":5.04},{"x":8.3,"y":4.92},{"x":9.4,"y":5.3},{"x":10.1,"y":5.41},{"x":10.5,"y":5.36},{"x":11.6,"y":5.04},{"x":12.7,"y":4.83},{"x":14.9,"y":5.34},{"x":15.6,"y":5.04},{"x":17.1,"y":4.98},{"x":18.2,"y":4.87},{"x":19.3,"y":4.66},{"x":19.9,"y":5.19},{"x":20.4,"y":5.08},{"x":20.8,"y":4.58},{"x":21.5,"y":4.49},{"x":22.6,"y":4.83},{"x":23.7,"y":4.66},{"x":24.8,"y":4.43},{"x":25.9,"y":4.92},{"x":26.5,"y":4.79},{"x":27,"y":4.32},{"x":27.6,"y":5.3},{"x":28.1,"y":4.49},{"x":29.2,"y":4.16},{"x":29.6,"y":5.36},{"x":30.3,"y":4.92},{"x":31.4,"y":4.96},{"x":32.5,"y":4.16},{"x":33.1,"y":4.31},{"x":33.9,"y":4.0},{"x":35.3,"y":4.75},{"x":36.2,"y":4.66},{"x":37.5,"y":5.17},{"x":37.9,"y":3.67},{"x":37.9,"y":3.57},{"x":38.4,"y":3.9},{"x":39,"y":4.81},{"x":39.7,"y":4.16},{"x":40.1,"y":4.11},{"x":41.2,"y":4.68},{"x":42.3,"y":5.25},{"x":42.8,"y":4.65},{"x":43.4,"y":5.25},{"x":44.9,"y":5.44},{"x":45.6,"y":4.66},{"x":46.3,"y":4.24},{"x":47.2,"y":5.61},{"x":47.8,"y":3.92},{"x":48.9,"y":4.66},{"x":50,"y":4.16},{"x":50.7,"y":3.72},{"x":51.1,"y":4.93},{"x":51.5,"y":4.2},{"x":52.2,"y":3.5},{"x":52.9,"y":3.9},{"x":53.3,"y":4.75},{"x":53.7,"y":5.25},{"x":54.4,"y":3.84},{"x":55,"y":4.09},{"x":55.9,"y":3.61},{"x":57.2,"y":4.2},{"x":58.8,"y":4.92},{"x":60.3,"y":3.82},{"x":62.5,"y":4.37},{"x":63.2,"y":3.82},{"x":63.8,"y":4.43},{"x":64.7,"y":5.08},{"x":65.4,"y":5.19},{"x":66.4,"y":4.24},{"x":67.5,"y":4.31},{"x":68.2,"y":3.67},{"x":69.1,"y":4.43},{"x":70.4,"y":3.9},{"x":71.9,"y":4.16},{"x":74.1,"y":4.11},{"x":76.3,"y":3.95},{"x":77.4,"y":4.0},{"x":78.5,"y":4.14},{"x":79.2,"y":3.84},{"x":79.2,"y":3.33},{"x":80,"y":3.63},{"x":81.4,"y":4.11},{"x":86.2,"y":3.78},{"x":89,"y":4.09},{"x":89.9,"y":3.82},{"x":107,"y":4.2}],
    "s10": [{"x":0,"y":4.96,"lo":4.86,"hi":5.06},{"x":20,"y":4.81,"lo":4.73,"hi":4.89},{"x":42,"y":4.55,"lo":4.47,"hi":4.63},{"x":64,"y":4.27,"lo":4.17,"hi":4.37},{"x":86,"y":4.0,"lo":3.78,"hi":4.22},{"x":97,"y":3.93,"lo":3.53,"hi":4.33},{"x":107,"y":3.93,"lo":3.31,"hi":4.56}],
    "l10": [{"x":0,"y":5.02,"lo":4.93,"hi":5.11},{"x":27,"y":4.679,"lo":4.62,"hi":4.74},{"x":53.5,"y":4.345,"lo":4.29,"hi":4.4},{"x":80,"y":4.011,"lo":3.93,"hi":4.09},{"x":107,"y":3.67,"lo":3.52,"hi":3.82}],
    "p11": [{"x":0,"y":5.42},{"x":0,"y":5.25},{"x":0,"y":5.08},{"x":0,"y":4.93},{"x":0,"y":4.56},{"x":0,"y":4.28},{"x":0,"y":3.93},{"x":0.9,"y":5.17},{"x":1.8,"y":4.83},{"x":3,"y":4.39},{"x":3.9,"y":4.58},{"x":4.8,"y":4.16},{"x":5.4,"y":5.3},{"x":6,"y":5.02},{"x":7,"y":5.35},{"x":7.9,"y":4.56},{"x":8.5,"y":4.75},{"x":9.1,"y":5.38},{"x":10,"y":5.1},{"x":12.1,"y":3.67},{"x":13,"y":5.25},{"x":14,"y":4.62},{"x":14.5,"y":5.13},{"x":16,"y":5.08},{"x":17.5,"y":5.35},{"x":18.2,"y":4.92},{"x":19.1,"y":5.02},{"x":20.6,"y":4.0},{"x":21.2,"y":5.38},{"x":22,"y":4.66},{"x":23.6,"y":5.04},{"x":25.1,"y":4.87},{"x":26.6,"y":5.3},{"x":28.1,"y":4.43},{"x":29.6,"y":5.61},{"x":30.2,"y":5.08},{"x":31.2,"y":4.58},{"x":32.1,"y":4.11},{"x":33.3,"y":4.83},{"x":34.2,"y":4.37},{"x":35.7,"y":4.87},{"x":36.6,"y":5.08},{"x":38.1,"y":4.17},{"x":38.7,"y":5.46},{"x":40.2,"y":4.58},{"x":41.7,"y":3.89},{"x":43.3,"y":4.79},{"x":44.8,"y":4.49},{"x":45.4,"y":4.31},{"x":47.2,"y":3.57},{"x":47.8,"y":4.11},{"x":48.4,"y":5.0},{"x":49.3,"y":4.92},{"x":50.2,"y":4.68},{"x":50.8,"y":4.75},{"x":51.4,"y":3.9},{"x":52.3,"y":4.75},{"x":53.8,"y":3.95},{"x":55.4,"y":3.86},{"x":56.3,"y":3.82},{"x":61.4,"y":4.87},{"x":62.3,"y":3.89},{"x":62.9,"y":5.25},{"x":65.9,"y":4.24},{"x":67.5,"y":4.16},{"x":69,"y":4.54},{"x":69.6,"y":4.45},{"x":70.5,"y":4.07},{"x":72,"y":4.28},{"x":75,"y":3.95},{"x":77.4,"y":4.07},{"x":79.6,"y":3.72},{"x":82.6,"y":3.5},{"x":84.1,"y":3.9},{"x":85.6,"y":4.0},{"x":86.2,"y":3.61},{"x":88.6,"y":3.89},{"x":92.6,"y":5.08},{"x":93.2,"y":3.69},{"x":94.7,"y":3.8},{"x":95.6,"y":3.65},{"x":98.6,"y":4.72},{"x":100.7,"y":4.2},{"x":102.2,"y":4.11},{"x":103.8,"y":4.16},{"x":104.7,"y":3.58},{"x":108.3,"y":3.9},{"x":119.8,"y":4.09},{"x":121,"y":3.8},{"x":132.5,"y":4.2},{"x":141.6,"y":4.41},{"x":144,"y":3.33},{"x":147.6,"y":3.75}],
    "s11": [{"x":0,"y":4.87,"lo":4.77,"hi":4.97},{"x":11.5,"y":4.92,"lo":4.84,"hi":5.0},{"x":26.6,"y":4.83,"lo":4.75,"hi":4.91},{"x":42,"y":4.62,"lo":4.53,"hi":4.71},{"x":57,"y":4.41,"lo":4.32,"hi":4.5},{"x":72,"y":4.16,"lo":4.07,"hi":4.25},{"x":87,"y":4.05,"lo":3.94,"hi":4.16},{"x":102,"y":3.99,"lo":3.86,"hi":4.12},{"x":125,"y":3.92,"lo":3.72,"hi":4.12},{"x":147.6,"y":3.9,"lo":3.4,"hi":4.37}],
    "l11": [{"x":0,"y":4.93,"lo":4.84,"hi":5.02},{"x":37,"y":4.599,"lo":4.54,"hi":4.66},{"x":74,"y":4.268,"lo":4.21,"hi":4.33},{"x":111,"y":3.937,"lo":3.85,"hi":4.02},{"x":147.6,"y":3.61,"lo":3.46,"hi":3.76}],
    "p12": [{"x":0,"y":5.42},{"x":0,"y":5.08},{"x":0,"y":4.96},{"x":0,"y":3.93},{"x":2.6,"y":4.92},{"x":4.2,"y":4.32},{"x":5.7,"y":4.75},{"x":7.8,"y":3.9},{"x":9.4,"y":4.85},{"x":12,"y":4.2},{"x":14.5,"y":5.27},{"x":16.1,"y":4.87},{"x":17.1,"y":5.34},{"x":19.7,"y":5.38},{"x":21.3,"y":4.58},{"x":23.4,"y":4.75},{"x":24.9,"y":4.11},{"x":26.5,"y":4.32},{"x":27.5,"y":4.24},{"x":28.6,"y":4.03},{"x":30.1,"y":5.42},{"x":31.7,"y":4.41},{"x":32.7,"y":3.67},{"x":33.8,"y":5.19},{"x":35.3,"y":3.82},{"x":36.9,"y":3.61},{"x":37.9,"y":4.79},{"x":40.5,"y":5.17},{"x":42.1,"y":4.49},{"x":43.1,"y":3.75},{"x":44.7,"y":4.17},{"x":45.7,"y":5.17},{"x":46.8,"y":4.83},{"x":48.3,"y":5.38},{"x":49.4,"y":3.89},{"x":50.9,"y":5.3},{"x":52.5,"y":3.97},{"x":53.5,"y":5.25},{"x":54.5,"y":3.48},{"x":56.1,"y":4.37},{"x":57.7,"y":4.11},{"x":58.7,"y":4.75},{"x":61.3,"y":5.25},{"x":63.9,"y":5.08},{"x":64.9,"y":5.35},{"x":66.5,"y":4.92},{"x":69.1,"y":4.62},{"x":74.3,"y":3.9},{"x":76.9,"y":4.09},{"x":80.5,"y":3.84},{"x":84.7,"y":5.08},{"x":86.2,"y":3.8},{"x":87.3,"y":5.13},{"x":89.9,"y":5.17},{"x":96.1,"y":5.61},{"x":97.7,"y":5.46},{"x":101.3,"y":4.16},{"x":102.9,"y":3.9},{"x":104.4,"y":5.07},{"x":104.4,"y":4.11},{"x":111.7,"y":4.05},{"x":113.3,"y":3.9},{"x":114.8,"y":3.75},{"x":115.9,"y":3.61},{"x":118.4,"y":4.93},{"x":121,"y":4.07},{"x":123.6,"y":3.89},{"x":131.4,"y":4.2},{"x":134,"y":4.11},{"x":135.6,"y":4.92},{"x":139.2,"y":3.9},{"x":140.8,"y":4.0},{"x":147,"y":4.66},{"x":160,"y":4.96},{"x":162.6,"y":3.9},{"x":174,"y":3.33},{"x":175.7,"y":3.67},{"x":183.4,"y":4.24},{"x":196.4,"y":4.43},{"x":201.5,"y":5.04},{"x":204.2,"y":3.89},{"x":222.3,"y":5.25},{"x":237.9,"y":4.16},{"x":254.6,"y":4.49},{"x":12,"y":4.96},{"x":22.3,"y":4.66},{"x":32.7,"y":4.66},{"x":43.1,"y":4.75},{"x":53.5,"y":4.58},{"x":69.1,"y":4.79},{"x":79.5,"y":4.75},{"x":58.7,"y":4.54},{"x":48.3,"y":4.62},{"x":27.5,"y":4.54},{"x":17.1,"y":4.45},{"x":37.9,"y":4.28},{"x":100.3,"y":4.41},{"x":126.2,"y":4.24},{"x":69.1,"y":4.37}],
    "s12": [{"x":0,"y":4.83,"lo":4.7,"hi":4.96},{"x":17,"y":4.66,"lo":4.56,"hi":4.76},{"x":43,"y":4.66,"lo":4.58,"hi":4.74},{"x":69,"y":4.7,"lo":4.61,"hi":4.79},{"x":85,"y":4.66,"lo":4.56,"hi":4.76},{"x":105,"y":4.41,"lo":4.29,"hi":4.53},{"x":137,"y":4.2,"lo":4.06,"hi":4.34},{"x":173,"y":4.16,"lo":3.98,"hi":4.34},{"x":204,"y":4.24,"lo":3.98,"hi":4.5},{"x":235,"y":4.41,"lo":3.98,"hi":4.84},{"x":254.6,"y":4.58,"lo":3.95,"hi":5.15}],
    "l12": [{"x":0,"y":4.69,"lo":4.59,"hi":4.79},{"x":64,"y":4.544,"lo":4.48,"hi":4.61},{"x":127,"y":4.4,"lo":4.33,"hi":4.47},{"x":191,"y":4.255,"lo":4.14,"hi":4.37},{"x":254.6,"y":4.11,"lo":3.84,"hi":4.38}]
  },
  "concat": [
    {"title": "Log10(#authors)", "width": 195, "height": 159, "layer": [
      {"encoding": {"x": {"field": "x", "type": "quantitative", "title": null, "scale": {"domain": [2.5, 4.409], "nice": false}, "axis": {"values": [4], "format": "d"}},
                    "y": {"field": "y", "type": "quantitative", "title": null, "scale": {"domain": [1.75, 5.74], "nice": false}, "axis": {"values": [2, 3, 4, 5], "format": "d"}}},
       "layer": [
        {"data": {"name": "p1"}, "mark": "circle"},
        {"data": {"name": "s1"}, "mark": "area", "encoding": {"y": {"field": "lo"}, "y2": {"field": "hi"}}},
        {"data": {"name": "s1"}, "mark": {"type": "line", "color": "#2a64a8", "strokeWidth": 1.5, "interpolate": "monotone"}},
        {"data": {"name": "l1"}, "mark": "area", "encoding": {"y": {"field": "lo"}, "y2": {"field": "hi"}}},
        {"data": {"name": "l1"}, "mark": {"type": "line", "color": "#9b1f1f", "strokeWidth": 4}}
       ]},
      {"data": {"values": [{}]}, "mark": {"type": "text", "text": "R", "fontStyle": "italic"}, "encoding": {"x": {"datum": 2.608, "type": "quantitative"}, "y": {"datum": 1.92, "type": "quantitative"}}},
      {"data": {"values": [{}]}, "mark": {"type": "text", "text": "2", "fontSize": 9, "dx": 9.5, "dy": -4.7}, "encoding": {"x": {"datum": 2.608, "type": "quantitative"}, "y": {"datum": 1.92, "type": "quantitative"}}},
      {"data": {"values": [{}]}, "mark": {"type": "text", "text": "= 0.7", "dx": 17.7}, "encoding": {"x": {"datum": 2.608, "type": "quantitative"}, "y": {"datum": 1.92, "type": "quantitative"}}}
    ]},
    {"title": "Times Rank", "width": 195, "height": 159, "layer": [
      {"encoding": {"x": {"field": "x", "type": "quantitative", "title": null, "scale": {"domain": [-12.7, 157.7], "nice": false}, "axis": {"values": [1, 120], "format": "d"}},
                    "y": {"field": "y", "type": "quantitative", "title": null, "scale": {"domain": [1.75, 5.74], "nice": false}, "axis": null}},
       "layer": [
        {"data": {"name": "p2"}, "mark": "circle"},
        {"data": {"name": "s2"}, "mark": "area", "encoding": {"y": {"field": "lo"}, "y2": {"field": "hi"}}},
        {"data": {"name": "s2"}, "mark": {"type": "line", "color": "#2a64a8", "strokeWidth": 1.5, "interpolate": "monotone"}},
        {"data": {"name": "l2"}, "mark": "area", "encoding": {"y": {"field": "lo"}, "y2": {"field": "hi"}}},
        {"data": {"name": "l2"}, "mark": {"type": "line", "color": "#9b1f1f", "strokeWidth": 4}}
       ]},
      {"data": {"values": [{}]}, "mark": {"type": "text", "text": "R", "fontStyle": "italic"}, "encoding": {"x": {"datum": -3.09, "type": "quantitative"}, "y": {"datum": 1.92, "type": "quantitative"}}},
      {"data": {"values": [{}]}, "mark": {"type": "text", "text": "2", "fontSize": 9, "dx": 9.5, "dy": -4.7}, "encoding": {"x": {"datum": -3.09, "type": "quantitative"}, "y": {"datum": 1.92, "type": "quantitative"}}},
      {"data": {"values": [{}]}, "mark": {"type": "text", "text": "= 0.7", "dx": 17.7}, "encoding": {"x": {"datum": -3.09, "type": "quantitative"}, "y": {"datum": 1.92, "type": "quantitative"}}}
    ]},
    {"title": "Leiden Rank", "width": 195, "height": 159, "layer": [
      {"encoding": {"x": {"field": "x", "type": "quantitative", "title": null, "scale": {"domain": [-15.9, 190.3], "nice": false}, "axis": {"values": [1, 120], "format": "d"}},
                    "y": {"field": "y", "type": "quantitative", "title": null, "scale": {"domain": [1.75, 5.74], "nice": false}, "axis": null}},
       "layer": [
        {"data": {"name": "p3"}, "mark": "circle"},
        {"data": {"name": "s3"}, "mark": "area", "encoding": {"y": {"field": "lo"}, "y2": {"field": "hi"}}},
        {"data": {"name": "s3"}, "mark": {"type": "line", "color": "#2a64a8", "strokeWidth": 1.5, "interpolate": "monotone"}},
        {"data": {"name": "l3"}, "mark": "area", "encoding": {"y": {"field": "lo"}, "y2": {"field": "hi"}}},
        {"data": {"name": "l3"}, "mark": {"type": "line", "color": "#9b1f1f", "strokeWidth": 4}}
       ]},
      {"data": {"values": [{}]}, "mark": {"type": "text", "text": "R", "fontStyle": "italic"}, "encoding": {"x": {"datum": -4.27, "type": "quantitative"}, "y": {"datum": 1.92, "type": "quantitative"}}},
      {"data": {"values": [{}]}, "mark": {"type": "text", "text": "2", "fontSize": 9, "dx": 9.5, "dy": -4.7}, "encoding": {"x": {"datum": -4.27, "type": "quantitative"}, "y": {"datum": 1.92, "type": "quantitative"}}},
      {"data": {"values": [{}]}, "mark": {"type": "text", "text": "= 0.5", "dx": 17.7}, "encoding": {"x": {"datum": -4.27, "type": "quantitative"}, "y": {"datum": 1.92, "type": "quantitative"}}}
    ]},
    {"title": "#Doctoral Fields", "width": 195, "height": 159, "layer": [
      {"encoding": {"x": {"field": "x", "type": "quantitative", "title": null, "scale": {"domain": [10, 128.3], "nice": false}, "axis": {"values": [100], "format": "d"}},
                    "y": {"field": "y", "type": "quantitative", "title": null, "scale": {"domain": [1.75, 5.74], "nice": false}, "axis": null}},
       "layer": [
        {"data": {"name": "p4"}, "mark": "circle"},
        {"data": {"name": "s4"}, "mark": "area", "encoding": {"y": {"field": "lo"}, "y2": {"field": "hi"}}},
        {"data": {"name": "s4"}, "mark": {"type": "line", "color": "#2a64a8", "strokeWidth": 1.5, "interpolate": "monotone"}},
        {"data": {"name": "l4"}, "mark": "area", "encoding": {"y": {"field": "lo"}, "y2": {"field": "hi"}}},
        {"data": {"name": "l4"}, "mark": {"type": "line", "color": "#9b1f1f", "strokeWidth": 4}}
       ]},
      {"data": {"values": [{}]}, "mark": {"type": "text", "text": "R", "fontStyle": "italic"}, "encoding": {"x": {"datum": 16.67, "type": "quantitative"}, "y": {"datum": 1.92, "type": "quantitative"}}},
      {"data": {"values": [{}]}, "mark": {"type": "text", "text": "2", "fontSize": 9, "dx": 9.5, "dy": -4.7}, "encoding": {"x": {"datum": 16.67, "type": "quantitative"}, "y": {"datum": 1.92, "type": "quantitative"}}},
      {"data": {"values": [{}]}, "mark": {"type": "text", "text": "= 0.1", "dx": 17.7}, "encoding": {"x": {"datum": 16.67, "type": "quantitative"}, "y": {"datum": 1.92, "type": "quantitative"}}}
    ]},
    {"title": "S&E $ (1000's)", "width": 195, "height": 159, "layer": [
      {"encoding": {"x": {"field": "x", "type": "quantitative", "title": null, "scale": {"domain": [-233600, 2788000], "nice": false}, "axis": {"values": [0, 2000000], "labelExpr": "replace(format(datum.value, '.0e'), 'e+', 'e+0')"}},
                    "y": {"field": "y", "type": "quantitative", "scale": {"domain": [1.75, 5.74], "nice": false}, "axis": {"values": [2, 3, 4, 5], "format": "d", "title": "L2 norm"}}},
       "layer": [
        {"data": {"name": "p5"}, "mark": "circle"},
        {"data": {"name": "s5"}, "mark": "area", "encoding": {"y": {"field": "lo"}, "y2": {"field": "hi"}}},
        {"data": {"name": "s5"}, "mark": {"type": "line", "color": "#2a64a8", "strokeWidth": 1.5, "interpolate": "monotone"}},
        {"data": {"name": "l5"}, "mark": "area", "encoding": {"y": {"field": "lo"}, "y2": {"field": "hi"}}},
        {"data": {"name": "l5"}, "mark": {"type": "line", "color": "#9b1f1f", "strokeWidth": 4}}
       ]},
      {"data": {"values": [{}]}, "mark": {"type": "text", "text": "R", "fontStyle": "italic"}, "encoding": {"x": {"datum": -63180, "type": "quantitative"}, "y": {"datum": 1.92, "type": "quantitative"}}},
      {"data": {"values": [{}]}, "mark": {"type": "text", "text": "2", "fontSize": 9, "dx": 9.5, "dy": -4.7}, "encoding": {"x": {"datum": -63180, "type": "quantitative"}, "y": {"datum": 1.92, "type": "quantitative"}}},
      {"data": {"values": [{}]}, "mark": {"type": "text", "text": "= 0.6", "dx": 17.7}, "encoding": {"x": {"datum": -63180, "type": "quantitative"}, "y": {"datum": 1.92, "type": "quantitative"}}}
    ]},
    {"title": "Non S&E $ (1000's)", "width": 195, "height": 159, "layer": [
      {"encoding": {"x": {"field": "x", "type": "quantitative", "title": null, "scale": {"domain": [-12200, 139860], "nice": false}, "axis": {"values": [0, 100000], "labelExpr": "replace(format(datum.value, '.0e'), 'e+', 'e+0')"}},
                    "y": {"field": "y", "type": "quantitative", "title": null, "scale": {"domain": [1.75, 5.74], "nice": false}, "axis": null}},
       "layer": [
        {"data": {"name": "p6"}, "mark": "circle"},
        {"data": {"name": "s6"}, "mark": "area", "encoding": {"y": {"field": "lo"}, "y2": {"field": "hi"}}},
        {"data": {"name": "s6"}, "mark": {"type": "line", "color": "#2a64a8", "strokeWidth": 1.5, "interpolate": "monotone"}},
        {"data": {"name": "l6"}, "mark": "area", "encoding": {"y": {"field": "lo"}, "y2": {"field": "hi"}}},
        {"data": {"name": "l6"}, "mark": {"type": "line", "color": "#9b1f1f", "strokeWidth": 4}}
       ]},
      {"data": {"values": [{}]}, "mark": {"type": "text", "text": "R", "fontStyle": "italic"}, "encoding": {"x": {"datum": -3624, "type": "quantitative"}, "y": {"datum": 1.92, "type": "quantitative"}}},
      {"data": {"values": [{}]}, "mark": {"type": "text", "text": "2", "fontSize": 9, "dx": 9.5, "dy": -4.7}, "encoding": {"x": {"datum": -3624, "type": "quantitative"}, "y": {"datum": 1.92, "type": "quantitative"}}},
      {"data": {"values": [{}]}, "mark": {"type": "text", "text": "= 0.2", "dx": 17.7}, "encoding": {"x": {"datum": -3624, "type": "quantitative"}, "y": {"datum": 1.92, "type": "quantitative"}}}
    ]},
    {"title": "Total Enrollment", "width": 195, "height": 159, "layer": [
      {"encoding": {"x": {"field": "x", "type": "quantitative", "title": null, "scale": {"domain": [-3848, 74430], "nice": false}, "axis": {"values": [0, 60000], "format": "d"}},
                    "y": {"field": "y", "type": "quantitative", "title": null, "scale": {"domain": [1.75, 5.74], "nice": false}, "axis": null}},
       "layer": [
        {"data": {"name": "p7"}, "mark": "circle"},
        {"data": {"name": "s7"}, "mark": "area", "encoding": {"y": {"field": "lo"}, "y2": {"field": "hi"}}},
        {"data": {"name": "s7"}, "mark": {"type": "line", "color": "#2a64a8", "strokeWidth": 1.5, "interpolate": "monotone"}},
        {"data": {"name": "l7"}, "mark": "area", "encoding": {"y": {"field": "lo"}, "y2": {"field": "hi"}}},
        {"data": {"name": "l7"}, "mark": {"type": "line", "color": "#9b1f1f", "strokeWidth": 4}}
       ]},
      {"data": {"values": [{}]}, "mark": {"type": "text", "text": "R", "fontStyle": "italic"}, "encoding": {"x": {"datum": 567, "type": "quantitative"}, "y": {"datum": 1.92, "type": "quantitative"}}},
      {"data": {"values": [{}]}, "mark": {"type": "text", "text": "2", "fontSize": 9, "dx": 9.5, "dy": -4.7}, "encoding": {"x": {"datum": 567, "type": "quantitative"}, "y": {"datum": 1.92, "type": "quantitative"}}},
      {"data": {"values": [{}]}, "mark": {"type": "text", "text": "= 0.03", "dx": 17.7}, "encoding": {"x": {"datum": 567, "type": "quantitative"}, "y": {"datum": 1.92, "type": "quantitative"}}}
    ]},
    {"title": "Graduate Enrollment", "width": 195, "height": 159, "layer": [
      {"encoding": {"x": {"field": "x", "type": "quantitative", "title": null, "scale": {"domain": [-1225, 22660], "nice": false}, "axis": {"values": [0, 20000], "format": "d"}},
                    "y": {"field": "y", "type": "quantitative", "title": null, "scale": {"domain": [1.75, 5.74], "nice": false}, "axis": null}},
       "layer": [
        {"data": {"name": "p8"}, "mark": "circle"},
        {"data": {"name": "s8"}, "mark": "area", "encoding": {"y": {"field": "lo"}, "y2": {"field": "hi"}}},
        {"data": {"name": "s8"}, "mark": {"type": "line", "color": "#2a64a8", "strokeWidth": 1.5, "interpolate": "monotone"}},
        {"data": {"name": "l8"}, "mark": "area", "encoding": {"y": {"field": "lo"}, "y2": {"field": "hi"}}},
        {"data": {"name": "l8"}, "mark": {"type": "line", "color": "#9b1f1f", "strokeWidth": 4}}
       ]},
      {"data": {"values": [{}]}, "mark": {"type": "text", "text": "R", "fontStyle": "italic"}, "encoding": {"x": {"datum": 122, "type": "quantitative"}, "y": {"datum": 1.92, "type": "quantitative"}}},
      {"data": {"values": [{}]}, "mark": {"type": "text", "text": "2", "fontSize": 9, "dx": 9.5, "dy": -4.7}, "encoding": {"x": {"datum": 122, "type": "quantitative"}, "y": {"datum": 1.92, "type": "quantitative"}}},
      {"data": {"values": [{}]}, "mark": {"type": "text", "text": "= 0.4", "dx": 17.7}, "encoding": {"x": {"datum": 122, "type": "quantitative"}, "y": {"datum": 1.92, "type": "quantitative"}}}
    ]},
    {"title": "#STEM PhDs", "width": 195, "height": 159, "layer": [
      {"encoding": {"x": {"field": "x", "type": "quantitative", "title": null, "scale": {"domain": [-44, 631], "nice": false}, "axis": {"values": [0, 600], "format": "d"}},
                    "y": {"field": "y", "type": "quantitative", "title": null, "scale": {"domain": [1.75, 5.74], "nice": false}, "axis": {"values": [2, 3, 4, 5], "format": "d"}}},
       "layer": [
        {"data": {"name": "p9"}, "mark": "circle"},
        {"data": {"name": "s9"}, "mark": "area", "encoding": {"y": {"field": "lo"}, "y2": {"field": "hi"}}},
        {"data": {"name": "s9"}, "mark": {"type": "line", "color": "#2a64a8", "strokeWidth": 1.5, "interpolate": "monotone"}},
        {"data": {"name": "l9"}, "mark": "area", "encoding": {"y": {"field": "lo"}, "y2": {"field": "hi"}}},
        {"data": {"name": "l9"}, "mark": {"type": "line", "color": "#9b1f1f", "strokeWidth": 4}}
       ]},
      {"data": {"values": [{}]}, "mark": {"type": "text", "text": "R", "fontStyle": "italic"}, "encoding": {"x": {"datum": -5.9, "type": "quantitative"}, "y": {"datum": 1.92, "type": "quantitative"}}},
      {"data": {"values": [{}]}, "mark": {"type": "text", "text": "2", "fontSize": 9, "dx": 9.5, "dy": -4.7}, "encoding": {"x": {"datum": -5.9, "type": "quantitative"}, "y": {"datum": 1.92, "type": "quantitative"}}},
      {"data": {"values": [{}]}, "mark": {"type": "text", "text": "= 0.5", "dx": 17.7}, "encoding": {"x": {"datum": -5.9, "type": "quantitative"}, "y": {"datum": 1.92, "type": "quantitative"}}}
    ]},
    {"title": "#Soc. Sci. PhDs", "width": 195, "height": 159, "layer": [
      {"encoding": {"x": {"field": "x", "type": "quantitative", "title": null, "scale": {"domain": [-10.3, 118.4], "nice": false}, "axis": {"values": [0, 100], "format": "d"}},
                    "y": {"field": "y", "type": "quantitative", "title": null, "scale": {"domain": [1.75, 5.74], "nice": false}, "axis": null}},
       "layer": [
        {"data": {"name": "p10"}, "mark": "circle"},
        {"data": {"name": "s10"}, "mark": "area", "encoding": {"y": {"field": "lo"}, "y2": {"field": "hi"}}},
        {"data": {"name": "s10"}, "mark": {"type": "line", "color": "#2a64a8", "strokeWidth": 1.5, "interpolate": "monotone"}},
        {"data": {"name": "l10"}, "mark": "area", "encoding": {"y": {"field": "lo"}, "y2": {"field": "hi"}}},
        {"data": {"name": "l10"}, "mark": {"type": "line", "color": "#9b1f1f", "strokeWidth": 4}}
       ]},
      {"data": {"values": [{}]}, "mark": {"type": "text", "text": "R", "fontStyle": "italic"}, "encoding": {"x": {"datum": -3.04, "type": "quantitative"}, "y": {"datum": 1.92, "type": "quantitative"}}},
      {"data": {"values": [{}]}, "mark": {"type": "text", "text": "2", "fontSize": 9, "dx": 9.5, "dy": -4.7}, "encoding": {"x": {"datum": -3.04, "type": "quantitative"}, "y": {"datum": 1.92, "type": "quantitative"}}},
      {"data": {"values": [{}]}, "mark": {"type": "text", "text": "= 0.4", "dx": 17.7}, "encoding": {"x": {"datum": -3.04, "type": "quantitative"}, "y": {"datum": 1.92, "type": "quantitative"}}}
    ]},
    {"title": "#Humanities PhDs", "width": 195, "height": 159, "layer": [
      {"encoding": {"x": {"field": "x", "type": "quantitative", "title": null, "scale": {"domain": [-14.5, 162.7], "nice": false}, "axis": {"values": [0, 150], "format": "d"}},
                    "y": {"field": "y", "type": "quantitative", "title": null, "scale": {"domain": [1.75, 5.74], "nice": false}, "axis": null}},
       "layer": [
        {"data": {"name": "p11"}, "mark": "circle"},
        {"data": {"name": "s11"}, "mark": "area", "encoding": {"y": {"field": "lo"}, "y2": {"field": "hi"}}},
        {"data": {"name": "s11"}, "mark": {"type": "line", "color": "#2a64a8", "strokeWidth": 1.5, "interpolate": "monotone"}},
        {"data": {"name": "l11"}, "mark": "area", "encoding": {"y": {"field": "lo"}, "y2": {"field": "hi"}}},
        {"data": {"name": "l11"}, "mark": {"type": "line", "color": "#9b1f1f", "strokeWidth": 4}}
       ]},
      {"data": {"values": [{}]}, "mark": {"type": "text", "text": "R", "fontStyle": "italic"}, "encoding": {"x": {"datum": -4.5, "type": "quantitative"}, "y": {"datum": 1.92, "type": "quantitative"}}},
      {"data": {"values": [{}]}, "mark": {"type": "text", "text": "2", "fontSize": 9, "dx": 9.5, "dy": -4.7}, "encoding": {"x": {"datum": -4.5, "type": "quantitative"}, "y": {"datum": 1.92, "type": "quantitative"}}},
      {"data": {"values": [{}]}, "mark": {"type": "text", "text": "= 0.4", "dx": 17.7}, "encoding": {"x": {"datum": -4.5, "type": "quantitative"}, "y": {"datum": 1.92, "type": "quantitative"}}}
    ]},
    {"title": "#Other PhDs", "width": 195, "height": 159, "layer": [
      {"encoding": {"x": {"field": "x", "type": "quantitative", "title": null, "scale": {"domain": [-24.3, 279.6], "nice": false}, "axis": {"values": [0, 250], "format": "d"}},
                    "y": {"field": "y", "type": "quantitative", "title": null, "scale": {"domain": [1.75, 5.74], "nice": false}, "axis": null}},
       "layer": [
        {"data": {"name": "p12"}, "mark": "circle"},
        {"data": {"name": "s12"}, "mark": "area", "encoding": {"y": {"field": "lo"}, "y2": {"field": "hi"}}},
        {"data": {"name": "s12"}, "mark": {"type": "line", "color": "#2a64a8", "strokeWidth": 1.5, "interpolate": "monotone"}},
        {"data": {"name": "l12"}, "mark": "area", "encoding": {"y": {"field": "lo"}, "y2": {"field": "hi"}}},
        {"data": {"name": "l12"}, "mark": {"type": "line", "color": "#9b1f1f", "strokeWidth": 4}}
       ]},
      {"data": {"values": [{}]}, "mark": {"type": "text", "text": "R", "fontStyle": "italic"}, "encoding": {"x": {"datum": -7.16, "type": "quantitative"}, "y": {"datum": 1.92, "type": "quantitative"}}},
      {"data": {"values": [{}]}, "mark": {"type": "text", "text": "2", "fontSize": 9, "dx": 9.5, "dy": -4.7}, "encoding": {"x": {"datum": -7.16, "type": "quantitative"}, "y": {"datum": 1.92, "type": "quantitative"}}},
      {"data": {"values": [{}]}, "mark": {"type": "text", "text": "= 0.06", "dx": 17.7}, "encoding": {"x": {"datum": -7.16, "type": "quantitative"}, "y": {"datum": 1.92, "type": "quantitative"}}}
    ]}
  ]
}
